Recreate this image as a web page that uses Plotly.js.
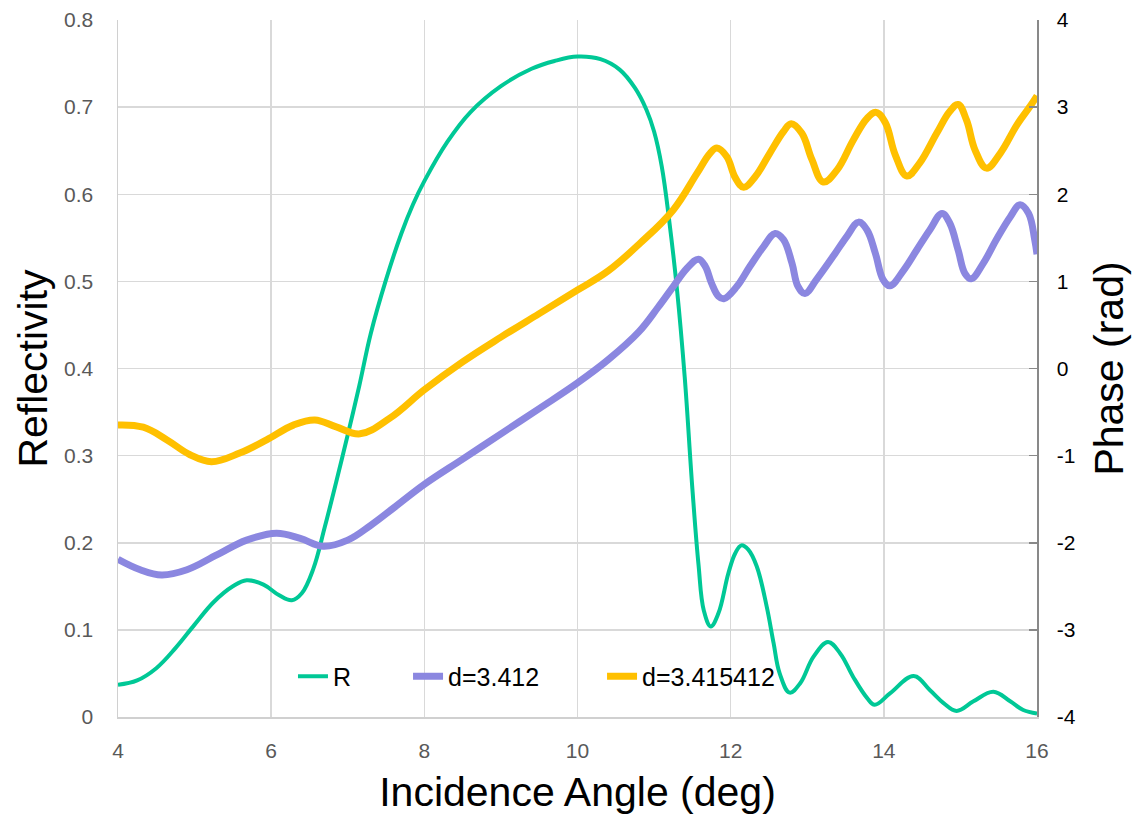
<!DOCTYPE html>
<html>
<head>
<meta charset="utf-8">
<script src="https://cdn.plot.ly/plotly-3.0.1.min.js"></script>
<style>
  html, body { margin: 0; padding: 0; background: #ffffff; }
  #chart { width: 1140px; height: 817px; }
</style>
</head>
<body>
<div id="chart"></div>
<script>
// Reflectivity R versus incidence angle (left axis)
const angleR = [4.0, 4.25, 4.5, 4.75, 5.0, 5.25, 5.5, 5.68, 5.9, 6.1, 6.27, 6.4, 6.55, 6.7, 6.85, 7.0, 7.15, 7.3, 7.5, 7.7, 7.85, 8.0, 8.3, 8.6, 9.0, 9.4, 9.7, 10.0, 10.3, 10.55, 10.75, 10.9, 11.0, 11.1, 11.2, 11.3, 11.4, 11.5, 11.58, 11.65, 11.74, 11.84, 11.97, 12.06, 12.14, 12.23, 12.34, 12.47, 12.56, 12.64, 12.77, 12.91, 13.08, 13.27, 13.43, 13.60, 13.78, 13.88, 14.08, 14.39, 14.60, 14.78, 14.95, 15.17, 15.43, 15.65, 15.82, 16.0];
const reflectivity = [0.037, 0.042, 0.056, 0.079, 0.106, 0.132, 0.150, 0.157, 0.152, 0.140, 0.134, 0.142, 0.170, 0.218, 0.270, 0.324, 0.380, 0.440, 0.502, 0.555, 0.588, 0.615, 0.660, 0.694, 0.724, 0.744, 0.753, 0.758, 0.755, 0.743, 0.722, 0.697, 0.672, 0.632, 0.568, 0.490, 0.390, 0.262, 0.175, 0.122, 0.104, 0.119, 0.165, 0.188, 0.197, 0.192, 0.173, 0.127, 0.085, 0.050, 0.028, 0.039, 0.069, 0.086, 0.073, 0.046, 0.022, 0.014, 0.027, 0.047, 0.031, 0.016, 0.007, 0.018, 0.029, 0.018, 0.008, 0.004];

// Phase for d = 3.412 (right axis)
const angleA = [4.0, 4.29, 4.57, 4.90, 5.29, 5.68, 6.07, 6.38, 6.68, 7.0, 7.3, 7.6, 8.0, 8.5, 9.0, 9.5, 10.0, 10.4, 10.8, 11.05, 11.25, 11.43, 11.58, 11.67, 11.75, 11.84, 11.91, 12.08, 12.25, 12.43, 12.58, 12.69, 12.80, 12.88, 12.97, 13.12, 13.34, 13.52, 13.67, 13.78, 13.89, 13.99, 14.08, 14.26, 14.43, 14.60, 14.76, 14.86, 14.97, 15.06, 15.14, 15.30, 15.47, 15.65, 15.78, 15.89, 15.97, 16.0];
const phaseA = [-2.19, -2.31, -2.37, -2.31, -2.14, -1.97, -1.89, -1.95, -2.04, -1.97, -1.80, -1.60, -1.33, -1.04, -0.75, -0.46, -0.165, 0.10, 0.42, 0.70, 0.94, 1.15, 1.255, 1.17, 0.98, 0.83, 0.80, 0.94, 1.17, 1.40, 1.55, 1.48, 1.21, 0.94, 0.86, 1.02, 1.29, 1.52, 1.68, 1.59, 1.32, 1.02, 0.95, 1.13, 1.36, 1.59, 1.78, 1.67, 1.36, 1.09, 1.03, 1.21, 1.48, 1.74, 1.88, 1.78, 1.48, 1.31];

// Phase for d = 3.415412 (right axis)
const angleB = [4.0, 4.33, 4.64, 4.94, 5.22, 5.59, 5.94, 6.29, 6.57, 6.85, 7.16, 7.55, 8.0, 8.5, 9.0, 9.5, 10.0, 10.4, 10.82, 11.25, 11.56, 11.73, 11.82, 11.95, 12.06, 12.17, 12.32, 12.51, 12.69, 12.79, 12.93, 13.06, 13.21, 13.39, 13.60, 13.78, 13.90, 14.02, 14.15, 14.30, 14.47, 14.69, 14.86, 14.97, 15.08, 15.19, 15.34, 15.52, 15.74, 15.91, 16.0];
const phaseB = [-0.648, -0.674, -0.82, -0.99, -1.07, -0.97, -0.82, -0.65, -0.59, -0.67, -0.75, -0.57, -0.245, 0.076, 0.36, 0.63, 0.90, 1.12, 1.44, 1.82, 2.24, 2.47, 2.53, 2.43, 2.19, 2.08, 2.20, 2.47, 2.72, 2.81, 2.70, 2.40, 2.14, 2.28, 2.62, 2.87, 2.94, 2.82, 2.45, 2.21, 2.36, 2.70, 2.95, 3.03, 2.85, 2.51, 2.30, 2.47, 2.80, 3.01, 3.13];

const seriesNames = ['R', 'd=3.412', 'd=3.415412'];

// Phase axis ticks written with a plain hyphen
const phaseTicks = [-4, -3, -2, -1, 0, 1, 2, 3, 4];
const phaseTickText = ['-4', '-3', '-2', '-1', '0', '1', '2', '3', '4'];

const FONT = 'Liberation Sans, Arial, sans-serif';

const traces = [
  {
    x: angleR, y: reflectivity, name: seriesNames[0], yaxis: 'y', legend: 'legend',
    mode: 'lines', line: { color: '#00C896', width: 4, shape: 'spline', smoothing: 1.1 }
  },
  {
    x: angleA, y: phaseA, name: seriesNames[1], yaxis: 'y2', legend: 'legend2',
    mode: 'lines', line: { color: '#8B87E0', width: 7, shape: 'spline', smoothing: 1.1 }
  },
  {
    x: angleB, y: phaseB, name: seriesNames[2], yaxis: 'y2', legend: 'legend3',
    mode: 'lines', line: { color: '#FFC000', width: 7, shape: 'spline', smoothing: 1.1 }
  }
];

function legendAt(xPos) {
  return {
    orientation: 'h', x: xPos, xanchor: 'left', y: 0.058, yanchor: 'middle',
    bgcolor: 'rgba(0,0,0,0)', borderwidth: 0,
    font: { size: 25, color: '#000000', family: FONT }
  };
}

const layout = {
  width: 1140, height: 817,
  margin: { l: 118, r: 103, t: 20, b: 100, pad: 0 },
  paper_bgcolor: '#ffffff', plot_bgcolor: '#ffffff',
  font: { family: FONT, color: '#000000' },
  showlegend: true,
  legend: legendAt(0.1904),
  legend2: legendAt(0.3156),
  legend3: legendAt(0.5267),
  xaxis: {
    range: [4, 16], dtick: 2, tick0: 4,
    showgrid: true, gridcolor: '#d9d9d9', gridwidth: 1.5,
    showline: true, linecolor: '#d0d0d0', linewidth: 1.5,
    zeroline: false, ticks: '', ticklabelstandoff: 14,
    tickfont: { size: 21, color: '#595959', family: FONT },
    title: { text: 'Incidence Angle (deg)', font: { size: 41, color: '#000000', family: FONT }, standoff: 16 }
  },
  yaxis: {
    range: [0, 0.8], dtick: 0.1, tick0: 0,
    showgrid: true, gridcolor: '#d9d9d9', gridwidth: 1.5,
    showline: true, linecolor: '#d0d0d0', linewidth: 1.5,
    zeroline: false, ticks: '', ticklabelstandoff: 19,
    tickfont: { size: 21, color: '#595959', family: FONT },
    title: { text: 'Reflectivity', font: { size: 41, color: '#000000', family: FONT }, standoff: 3 }
  },
  yaxis2: {
    overlaying: 'y', side: 'right', anchor: 'x',
    range: [-4, 4], tickmode: 'array', tickvals: phaseTicks, ticktext: phaseTickText,
    showgrid: false, zeroline: false,
    showline: true, linecolor: '#898989', linewidth: 1.5,
    ticks: 'inside', ticklen: 8, tickwidth: 1.5, tickcolor: '#898989',
    ticklabelstandoff: 14,
    tickfont: { size: 21, color: '#000000', family: FONT },
    title: { text: 'Phase (rad)', font: { size: 41, color: '#000000', family: FONT }, standoff: 19 }
  }
};

Plotly.newPlot('chart', traces, layout, { displayModeBar: false, responsive: false, staticPlot: true });
</script>
</body>
</html>
